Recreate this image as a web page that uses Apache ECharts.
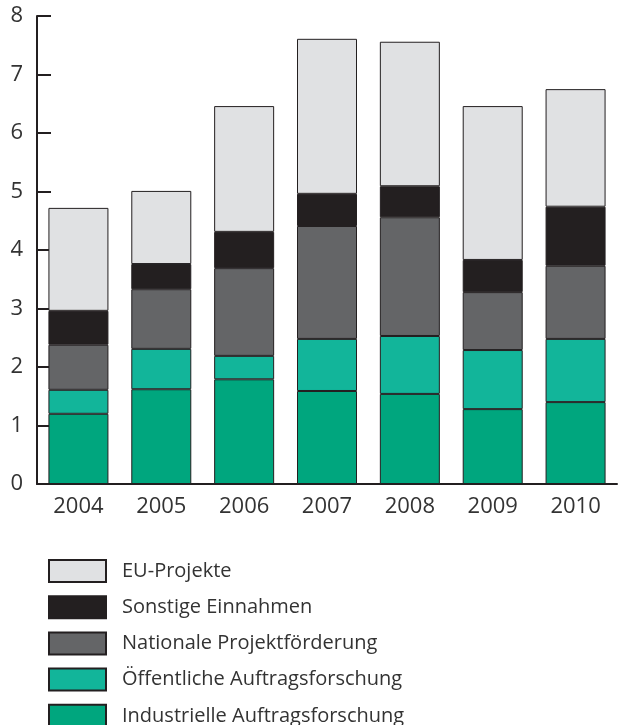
<!DOCTYPE html>
<html>
<head>
<meta charset="utf-8">
<script src="https://cdn.jsdelivr.net/npm/echarts@6/dist/echarts.min.js"></script>
<style>
  html, body { margin: 0; padding: 0; background: #fff; }
  #chart { width: 620px; height: 725px; }
</style>
</head>
<body>
<div id="chart"></div>
<script>
const years = ["2004", "2005", "2006", "2007", "2008", "2009", "2010"];
const industrielle = [1.2, 1.62, 1.79, 1.59, 1.54, 1.28, 1.4];
const oeffentliche = [0.41, 0.69, 0.4, 0.89, 0.99, 1.01, 1.08];
const nationale = [0.77, 1.02, 1.5, 1.93, 2.03, 0.99, 1.25];
const sonstige = [0.58, 0.43, 0.62, 0.55, 0.53, 0.55, 1.01];
const euProjekte = [1.76, 1.25, 2.15, 2.65, 2.47, 2.63, 2.01];
const yTicks = [0, 1, 2, 3, 4, 5, 6, 7, 8];

const dark = "#231f20";

function bar(name, data, color) {
  return {
    name: name,
    type: "bar",
    stack: "total",
    barWidth: 60,
    data: data,
    itemStyle: { color: color, borderColor: dark, borderWidth: 1 },
  };
}

const chart = echarts.init(document.getElementById("chart"));
chart.setOption({
  animation: false,
  textStyle: { fontFamily: "Open Sans" },
  grid: { left: 37, right: 3, top: 16, bottom: 241 },
  legend: {
    orient: "vertical",
    left: 48,
    top: 559,
    padding: 0,
    height: 260,
    icon: "rect",
    itemWidth: 57,
    itemHeight: 22,
    itemGap: 12.2,
    data: ["EU-Projekte", "Sonstige Einnahmen", "Nationale Projektförderung",
      "Öffentliche Auftragsforschung", "Industrielle Auftragsforschung"],
    textStyle: { fontSize: 20, lineHeight: 22, color: "#333", padding: [0, 0, 0, 11] },
    selectedMode: false,
  },
  xAxis: {
    type: "category",
    data: years,
    axisLine: { lineStyle: { color: dark, width: 2 } },
    axisTick: { inside: true, length: 9, lineStyle: { color: dark, width: 2 } },
    axisLabel: { fontSize: 22, color: "#333", margin: 12 },
  },
  yAxis: {
    type: "value",
    min: yTicks[0],
    max: yTicks[yTicks.length - 1],
    interval: 1,
    splitLine: { show: false },
    axisLine: { show: true, lineStyle: { color: dark, width: 2 } },
    axisTick: { show: true, inside: true, length: 14, lineStyle: { color: dark, width: 2 } },
    axisLabel: { fontSize: 22, color: "#333", margin: 14 },
  },
  series: [
    bar("Industrielle Auftragsforschung", industrielle, "#00a67e"),
    bar("Öffentliche Auftragsforschung", oeffentliche, "#12b59a"),
    bar("Nationale Projektförderung", nationale, "#646567"),
    bar("Sonstige Einnahmen", sonstige, dark),
    bar("EU-Projekte", euProjekte, "#e0e1e3"),
  ],
});
</script>
</body>
</html>
